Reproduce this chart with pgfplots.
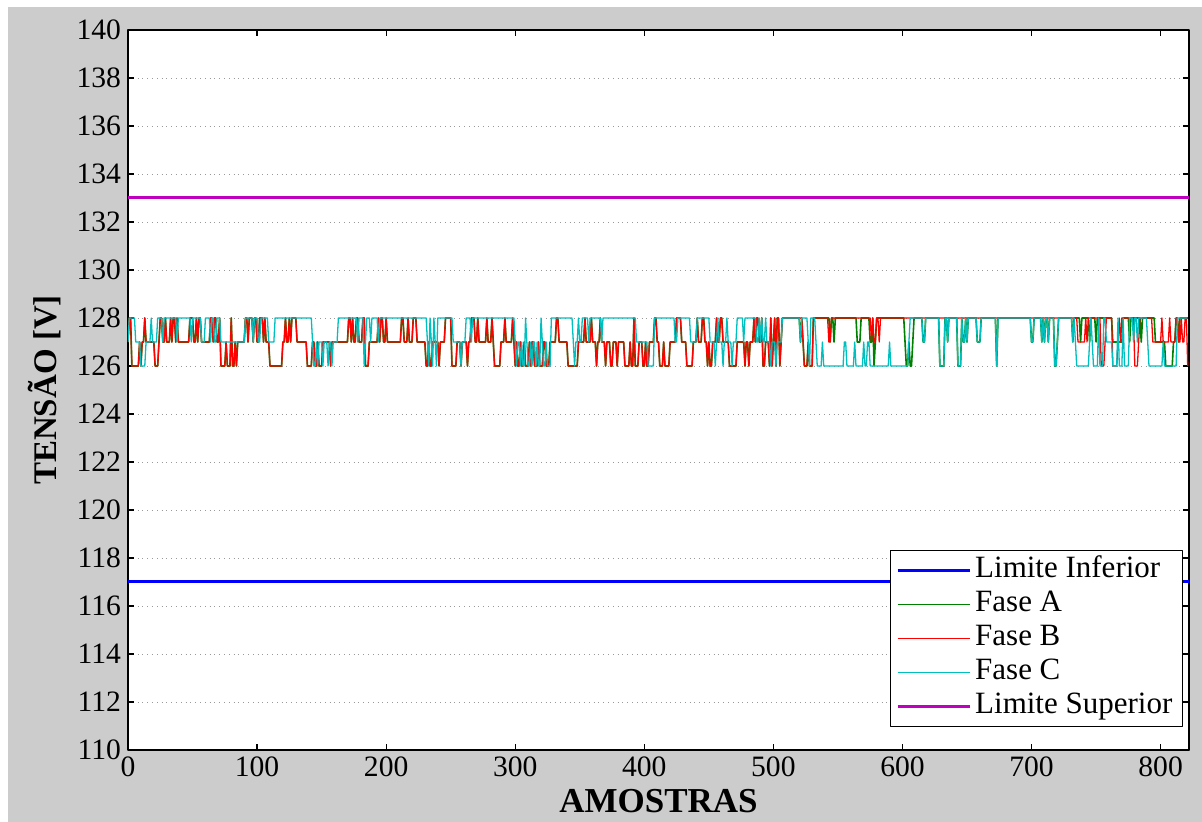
\documentclass[border=0pt]{standalone}
\usepackage{fontspec}
\setmainfont{Liberation Serif}
\usepackage{pgfplots}
\usepackage{pgfplotstable}
\pgfplotsset{compat=1.18}
\definecolor{bgray}{RGB}{204,204,204}
\definecolor{fA}{rgb}{0,0.5,0}
\definecolor{fB}{rgb}{1,0,0}
\definecolor{fC}{rgb}{0,0.75,0.75}
\definecolor{lS}{rgb}{0.75,0,0.75}
\definecolor{lI}{rgb}{0,0,1}

% Fase A and Fase B coincide for samples 0..506
\pgfplotstableread[row sep=\\]{
x y\\
0 127\\ 1 128\\ 2 128\\ 3 126\\ 8 126\\ 9 127\\ 10 126\\ 11 127\\ 12 127\\ 13 128\\ 14 127\\ 20 127\\ 21 126\\ 23 126\\ 24 127\\ 25 128\\ 26 128\\ 27 127\\ 28 127\\ 29 128\\ 30 127\\ 32 127\\ 33 128\\ 34 127\\ 35 128\\ 36 128\\ 37 127\\ 38 128\\ 39 127\\ 47 127\\
48 128\\ 50 128\\ 51 127\\ 52 127\\ 53 128\\ 54 127\\ 55 128\\ 56 128\\ 57 127\\ 63 127\\ 64 128\\ 65 128\\ 66 127\\ 67 128\\ 68 128\\ 69 127\\ 70 127\\ 71 128\\ 72 126\\ 75 126\\ 76 127\\ 77 126\\ 79 126\\ 80 128\\ 81 126\\ 82 126\\ 83 127\\ 84 126\\ 85 127\\ 90 127\\
91 128\\ 92 128\\ 93 127\\ 94 128\\ 96 128\\ 97 127\\ 98 128\\ 99 128\\ 100 127\\ 101 127\\ 102 128\\ 104 128\\ 105 127\\ 106 128\\ 107 127\\ 109 127\\ 110 126\\ 119 126\\ 120 127\\ 121 127\\ 122 128\\ 123 127\\ 124 127\\ 125 128\\ 126 127\\ 127 128\\ 130 128\\ 131 127\\ 138 127\\
139 126\\ 142 126\\ 143 127\\ 144 127\\ 145 126\\ 146 126\\ 147 127\\ 148 126\\ 150 126\\ 151 127\\ 156 127\\ 157 126\\ 158 127\\ 170 127\\ 171 128\\ 172 128\\ 173 127\\ 174 128\\ 175 127\\ 176 127\\ 177 128\\ 178 128\\ 179 127\\ 181 127\\ 182 128\\ 183 128\\ 184 126\\ 186 126\\
187 127\\ 193 127\\ 194 128\\ 195 127\\ 196 128\\ 197 128\\ 198 127\\ 199 127\\ 200 128\\ 201 127\\ 211 127\\ 212 128\\ 213 128\\ 214 127\\ 216 127\\ 217 128\\ 218 127\\ 220 127\\ 221 128\\ 223 128\\ 224 127\\ 230 127\\ 231 126\\ 232 126\\ 233 127\\ 234 126\\ 235 126\\ 236 127\\ 240 127\\
241 126\\ 242 127\\ 245 127\\ 246 128\\ 250 128\\ 251 126\\ 254 126\\ 255 127\\ 257 127\\ 258 126\\ 259 127\\ 262 127\\ 263 126\\ 264 127\\ 265 127\\ 266 128\\ 268 128\\ 269 127\\ 270 127\\ 271 128\\ 272 127\\ 277 127\\ 278 128\\ 279 127\\ 281 127\\ 282 128\\ 283 127\\ 284 126\\ 288 126\\
289 127\\ 291 127\\ 292 128\\ 293 127\\ 297 127\\ 298 128\\ 299 127\\ 300 126\\ 301 127\\ 302 126\\ 303 126\\ 304 127\\ 305 126\\ 306 126\\ 307 127\\ 308 126\\ 310 126\\ 311 127\\ 312 126\\ 313 127\\ 314 127\\ 315 126\\ 317 126\\ 318 127\\ 319 126\\ 321 126\\ 322 127\\ 323 127\\ 324 126\\ 326 126\\
327 127\\ 331 127\\ 332 128\\ 333 128\\ 334 127\\ 340 127\\ 341 126\\ 348 126\\ 349 127\\ 353 127\\ 354 128\\ 355 127\\ 358 127\\ 359 128\\ 360 127\\ 362 127\\ 363 126\\ 364 127\\ 365 127\\ 366 128\\ 367 127\\ 369 127\\ 370 126\\ 371 127\\ 373 127\\ 374 126\\ 375 126\\ 376 127\\ 378 127\\
379 126\\ 380 127\\ 384 127\\ 385 126\\ 388 126\\ 389 127\\ 390 126\\ 391 126\\ 392 128\\ 393 126\\ 395 126\\ 396 127\\ 398 127\\ 399 126\\ 400 126\\ 401 127\\ 402 126\\ 403 126\\ 404 127\\ 407 127\\ 408 128\\ 409 128\\ 410 127\\ 411 127\\ 412 126\\ 414 126\\ 415 127\\ 416 126\\ 419 126\\
420 127\\ 424 127\\ 425 128\\ 428 128\\ 429 127\\ 432 127\\ 433 126\\ 437 126\\ 438 127\\ 440 127\\ 441 128\\ 442 127\\ 444 127\\ 445 128\\ 446 128\\ 447 127\\ 448 127\\ 449 126\\ 450 127\\ 451 126\\ 452 126\\ 453 127\\ 455 127\\ 456 128\\ 457 127\\ 458 127\\ 459 128\\ 460 128\\ 461 127\\ 465 127\\
466 126\\ 471 126\\ 472 127\\ 477 127\\ 478 126\\ 479 127\\ 480 127\\ 481 126\\ 482 127\\ 484 127\\ 485 128\\ 486 127\\ 487 128\\ 488 128\\ 489 127\\ 490 127\\ 491 128\\ 492 126\\ 493 126\\ 494 127\\ 496 127\\ 497 126\\ 498 128\\ 499 126\\ 500 127\\ 501 128\\ 502 126\\ 503 128\\ 504 128\\ 505 126\\ 506 127\\
}\shared

\begin{document}
\begin{tikzpicture}
\useasboundingbox (-64pt,-36pt) rectangle (537pt,375pt);
\fill[bgray] (-60pt,-36pt) rectangle (537pt,371.5pt);
\begin{axis}[
  at={(0pt,0pt)}, anchor=south west,
  scale only axis, width=530.5pt, height=360pt,
  xmin=0, xmax=822, ymin=110, ymax=140,
  xtick={0,100,...,800}, ytick={110,112,...,140},
  tick align=inside, major tick length=3pt,
  axis line style={line width=1pt, black},
  every tick/.style={black, line width=0.6pt},
  ymajorgrids, grid style={dotted, gray!80, line width=0.4pt},
  axis background/.style={fill=white},
  /pgf/number format/assume math mode=true,
  ticklabel style={font=\fontsize{14.8}{17}\selectfont},
  xlabel={AMOSTRAS}, ylabel={TENSÃO [V]},
  x label style={at={(axis description cs:0.5,-0.0708)}, anchor=center, font=\fontsize{17.5}{20}\selectfont\bfseries},
  y label style={at={(axis description cs:-0.0782,0.5)}, anchor=center, font=\fontsize{16.5}{19}\selectfont\bfseries},
  legend style={at={(rel axis cs:0.9943,0.032)}, anchor=south east, draw=black, line width=0.6pt, fill=white, font=\fontsize{15.5}{18}\selectfont, cells={anchor=west}, inner xsep=3pt, inner ysep=1.5pt, row sep=0pt,
    nodes={inner ysep=1.25pt, text height=11pt, text depth=3.5pt}},
  legend image code/.code={\draw[#1] (0pt,0pt) -- (36pt,0pt);},
  line join=round,
]
\addplot[lI, line width=1.5pt] coordinates {(0,117) (822,117)};
\addlegendentry{Limite Inferior}

\addplot[fA, line width=0.8pt] table[x=x,y=y] {\shared};
\addlegendentry{Fase A}
\addplot[fA, line width=0.8pt, forget plot] coordinates {
(506,127)(507,128)(520,128)(521,127)(522,128)(523,127)(524,126)(526,126)(527,127)(528,126)(530,126)(531,128)(543,128)(544,127)(545,128)(546,128)(547,127)(548,128)(564,128)(565,127)(567,127)(568,128)(574,128)(575,127)(576,127)(577,128)(578,126)(579,127)(580,128)(601,128)(602,127)(603,126)(604,126)(605,127)(606,126)(607,126)(608,127)(609,128)(615,128)
(616,127)(617,127)(618,128)(628,128)(629,126)(632,126)(633,128)(634,128)(635,127)(636,128)(642,128)(643,126)(645,126)(646,128)(647,127)(648,127)(649,128)(650,127)(651,128)(657,128)(658,127)(660,127)(661,128)(672,128)(673,126)(674,128)(699,128)(700,127)(701,127)(702,128)(707,128)(708,127)(709,128)(710,127)(711,128)(712,128)(713,127)(714,128)(717,128)(718,126)(719,126)(720,127)(721,128)(731,128)(732,127)(733,128)
(737,128)(738,127)(739,128)(744,128)(745,127)(746,128)(749,128)(750,127)(751,128)(762,128)(763,127)(770,127)(771,128)(775,128)(776,127)(777,128)(784,128)(785,127)(786,128)(795,128)(796,127)(803,127)(804,126)(809,126)(810,127)(811,127)(812,128)(813,128)(814,127)(815,128)(821,128)
};

\addplot[fB, line width=0.65pt] table[x=x,y=y] {\shared};
\addlegendentry{Fase B}
\addplot[fB, line width=0.65pt, forget plot] coordinates {
(506,127)(507,128)(522,128)(523,127)(524,126)(526,126)(527,127)(528,126)(530,126)(531,128)(542,128)(543,127)(544,127)(545,128)(575,128)(576,127)(577,128)(578,127)(579,127)(580,128)(581,128)(582,127)(583,128)(735,128)(736,127)(741,127)(742,128)(743,127)(744,128)(753,128)(754,126)(756,126)(757,127)(758,128)(762,128)(763,126)(766,126)(767,127)(768,128)(769,127)(770,128)(779,128)(780,126)(782,126)(783,127)(784,128)(793,128)(794,127)(800,127)(801,128)(802,127)(806,127)(807,128)(808,127)(811,127)(812,128)(813,128)(814,127)(815,127)(816,128)(817,127)(818,127)(819,128)(820,128)(821,126)
};

\addplot[fC, line width=0.65pt] coordinates {
(0,127)(1,128)(5,128)(6,127)(9,127)(10,126)(13,126)(14,127)(17,127)(18,128)(19,127)(22,127)(23,128)(26,128)(27,127)(28,128)(37,128)(38,127)(39,128)(48,128)(49,127)(50,128)(56,128)(57,127)(59,127)(60,128)(63,128)(64,127)(65,128)(66,128)(67,127)(68,127)(69,128)(71,128)(72,127)(90,127)(91,128)(96,128)(97,127)(98,128)(100,128)(101,127)(102,127)(103,128)(108,128)(109,127)(113,127)(114,128)(142,128)(143,127)(144,126)(145,126)(146,127)(147,126)(148,127)(150,127)(151,126)(152,127)(154,127)(155,126)(156,127)(157,127)(158,126)(159,127)(162,127)(163,128)(177,128)(178,127)(179,128)(182,128)(183,126)(184,127)(185,128)(187,128)(188,127)(189,128)(193,128)(194,127)(195,128)(231,128)(232,127)(233,126)(234,128)(235,127)(236,126)(237,128)(238,127)(239,126)(240,128)(251,128)(252,127)(257,127)(258,126)(259,127)(261,127)(262,128)(265,128)(266,127)(267,128)(299,128)
(300,127)(301,126)(302,127)(303,127)(304,126)(305,127)(306,126)(307,126)(308,128)(309,127)(310,126)(311,126)(312,127)(313,126)(314,127)(315,127)(316,126)(317,127)(318,126)(319,126)(320,128)(321,127)(322,126)(323,126)(324,127)(325,126)(327,126)(328,128)(344,128)(345,127)(346,126)(347,127)(348,127)(349,128)(350,127)(351,127)(352,128)(356,128)(357,127)(358,128)(366,128)(367,127)(368,128)(393,128)(394,127)(402,127)(403,126)(407,126)(408,128)(423,128)(424,127)(425,127)(426,128)(435,128)(436,127)(440,127)(441,128)(450,128)(451,127)(454,127)(455,126)(456,127)(457,128)(458,127)(460,127)(461,126)(462,127)(463,127)(464,128)(465,127)(467,127)(468,126)(469,127)(471,127)(472,128)(476,128)(477,127)(478,128)(486,128)(487,127)(488,127)(489,128)(490,127)(491,128)(492,127)(493,127)(494,128)(495,127)(497,127)(498,126)(499,127)(501,127)(502,126)(503,127)(506,127)
(507,128)(520,128)(521,127)(522,128)(526,128)(527,127)(528,126)(529,128)(532,128)(533,127)(534,126)(537,126)(538,127)(539,126)(554,126)(555,127)(556,127)(557,126)(562,126)(563,127)(564,126)(569,126)(570,127)(571,126)(572,126)(573,127)(574,127)(575,126)(589,126)(590,127)(591,126)(604,126)(605,127)(606,128)(615,128)
(616,127)(617,127)(618,128)(628,128)(629,126)(632,126)(633,128)(634,128)(635,127)(636,128)(642,128)(643,126)(645,126)(646,128)(647,127)(648,127)(649,128)(650,127)(651,128)(657,128)(658,127)(660,127)(661,128)(672,128)(673,126)(674,128)(699,128)(700,127)(701,127)(702,128)(707,128)(708,127)(709,128)(710,127)(711,128)(712,128)(713,127)(714,128)(717,128)(718,126)(719,126)(720,127)(721,128)(731,128)(732,127)(733,128)
(734,127)(735,126)(744,126)(745,127)(746,128)(747,127)(748,126)(751,126)(752,128)(753,126)(755,126)(756,128)(757,128)(758,127)(762,127)(763,126)(766,126)(767,128)(768,126)(770,126)(771,128)(772,126)(775,126)(776,128)(778,128)(779,127)(780,128)(781,128)(782,127)(783,128)(789,128)(790,127)(791,126)(801,126)(802,127)(803,126)(812,126)(813,128)(821,128)
};
\addlegendentry{Fase C}

\addplot[lS, line width=1.5pt] coordinates {(0,133) (822,133)};
\addlegendentry{Limite Superior}
\end{axis}
\end{tikzpicture}
\end{document}
